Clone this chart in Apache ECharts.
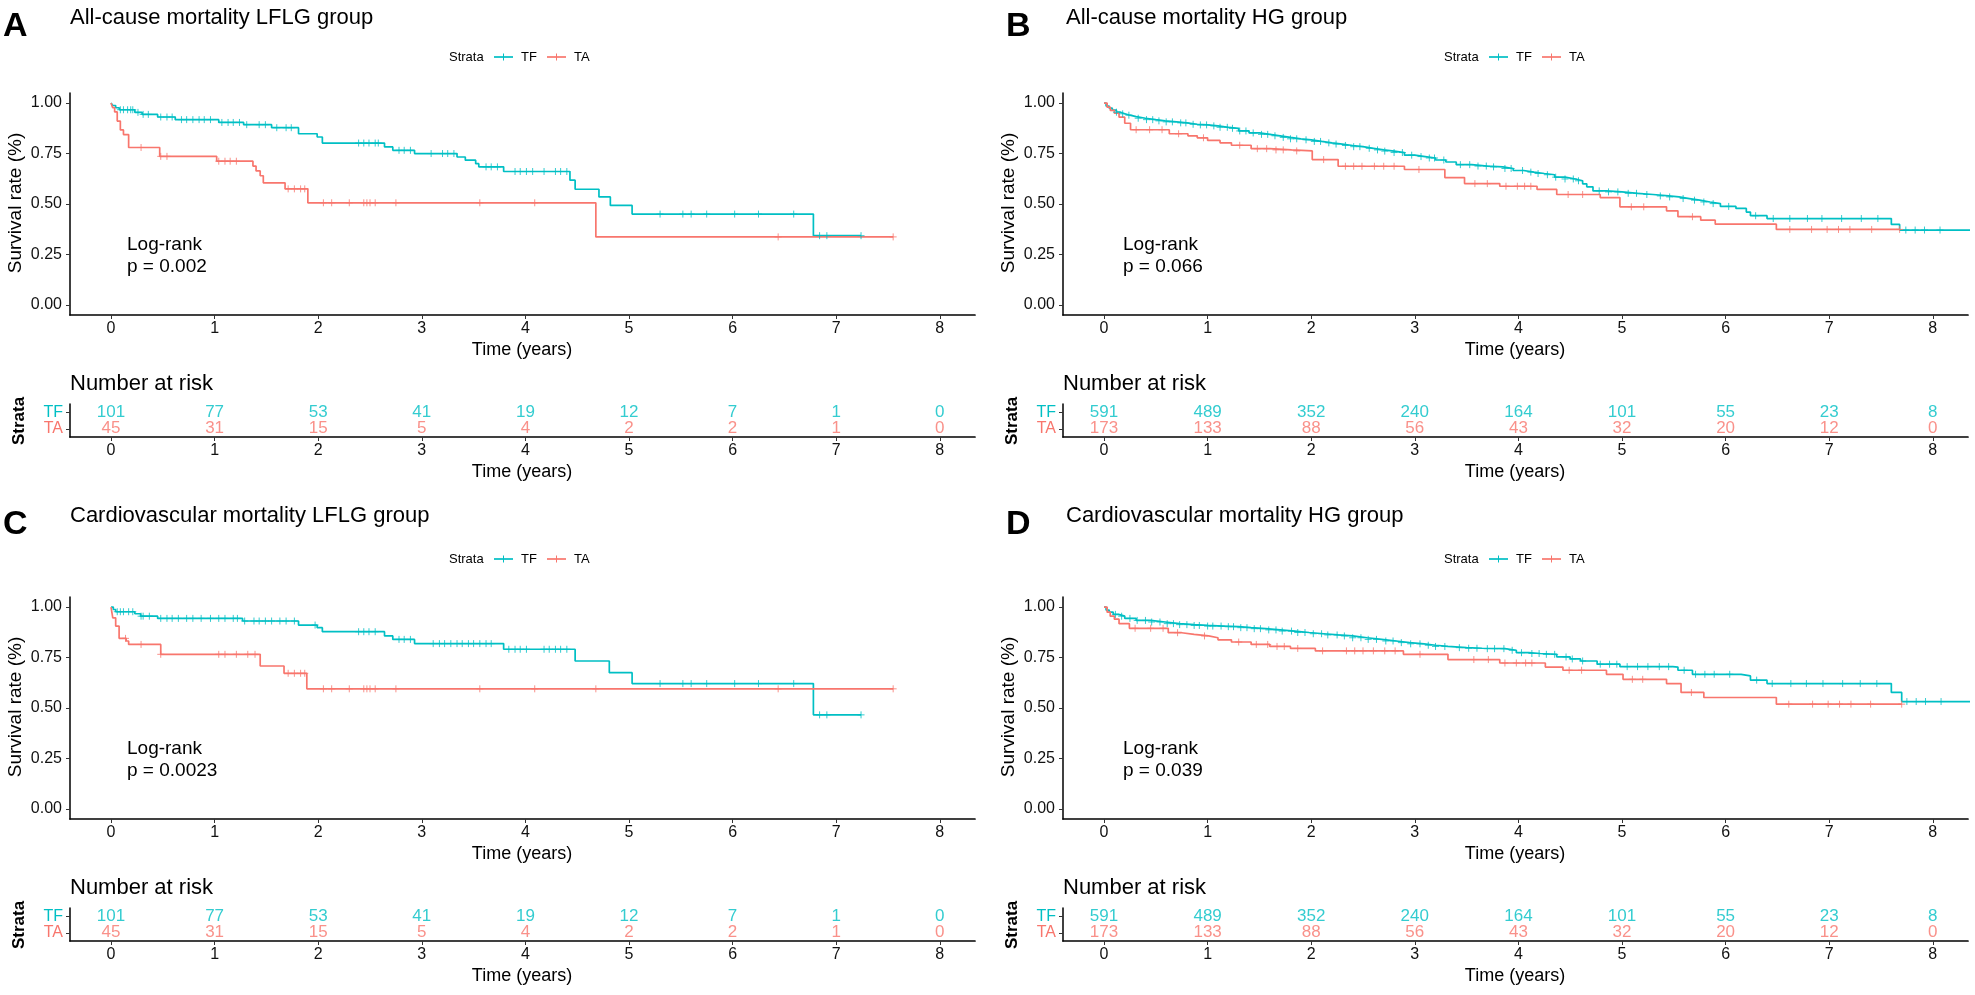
<!DOCTYPE html>
<html><head><meta charset="utf-8">
<script src="https://cdn.jsdelivr.net/npm/echarts@6/dist/echarts.min.js"></script>
<style>html,body{margin:0;padding:0;background:#fff}#c{width:1975px;height:995px}</style>
</head><body><div id="c"></div>
<script>
// ---------------- data ----------------
const years = [0,1,2,3,4,5,6,7,8];
const yTicks = [0,0.25,0.5,0.75,1];
const strata = ['TA','TF'];
const panelLetters = ['A','B','C','D'];
const panelTitles = ['All-cause mortality LFLG group','All-cause mortality HG group','Cardiovascular mortality LFLG group','Cardiovascular mortality HG group'];
const pValues = ['p = 0.002','p = 0.066','p = 0.0023','p = 0.039'];

const riskLFLG_TF = [101,77,53,41,19,12,7,1,0];
const riskLFLG_TA = [45,31,15,5,4,2,2,1,0];
const riskHG_TF = [591,489,352,240,164,101,55,23,8];
const riskHG_TA = [173,133,88,56,43,32,20,12,0];

// Kaplan-Meier step points [time, survival]
const A_TF = [[0,1],[0.017,0.988],[0.045,0.977],[0.08,0.967],[0.23,0.954],[0.30,0.944],[0.45,0.931],[0.62,0.918],[1.04,0.904],[1.28,0.893],[1.55,0.878],[1.81,0.848],[1.99,0.832],[2.04,0.802],[2.64,0.783],[2.72,0.766],[2.93,0.750],[3.34,0.733],[3.42,0.717],[3.52,0.700],[3.55,0.684],[3.79,0.661],[4.43,0.618],[4.48,0.573],[4.71,0.535],[4.82,0.493],[5.03,0.450],[6.78,0.343],[7.24,0.343]];
const A_TA = [[0,1],[0.015,0.978],[0.035,0.956],[0.06,0.911],[0.09,0.867],[0.12,0.844],[0.17,0.78],[0.47,0.736],[1.02,0.712],[1.37,0.688],[1.40,0.664],[1.44,0.64],[1.47,0.605],[1.68,0.575],[1.90,0.506],[4.68,0.337],[7.55,0.337]];
const B_TF = [[0,1],[0.02,0.985],[0.05,0.975],[0.08,0.965],[0.12,0.955],[0.16,0.947],[0.2,0.94],[0.25,0.933],[0.31,0.925],[0.4,0.918],[0.5,0.912],[0.59,0.907],[0.7,0.902],[0.8,0.895],[0.9,0.892],[1.0,0.887],[1.1,0.880],[1.2,0.875],[1.3,0.862],[1.4,0.852],[1.5,0.845],[1.6,0.838],[1.7,0.830],[1.8,0.823],[1.9,0.818],[2.0,0.810],[2.1,0.803],[2.2,0.797],[2.3,0.790],[2.4,0.784],[2.5,0.776],[2.6,0.768],[2.7,0.762],[2.8,0.755],[2.9,0.742],[3.0,0.735],[3.1,0.728],[3.2,0.718],[3.3,0.708],[3.4,0.695],[3.55,0.688],[3.7,0.684],[3.85,0.676],[3.95,0.666],[4.05,0.658],[4.15,0.651],[4.25,0.645],[4.35,0.633],[4.45,0.624],[4.55,0.615],[4.62,0.600],[4.66,0.585],[4.72,0.565],[4.85,0.560],[5.0,0.553],[5.15,0.547],[5.3,0.540],[5.45,0.535],[5.55,0.527],[5.65,0.519],[5.75,0.51],[5.85,0.502],[5.95,0.488],[6.1,0.478],[6.2,0.46],[6.24,0.442],[6.4,0.428],[7.6,0.399],[7.68,0.371],[8.41,0.371]];
const B_TA = [[0,1],[0.03,0.98],[0.06,0.964],[0.10,0.95],[0.145,0.93],[0.2,0.9],[0.256,0.868],[0.63,0.848],[0.81,0.838],[0.9,0.828],[1.0,0.815],[1.12,0.803],[1.23,0.791],[1.42,0.774],[1.6,0.768],[1.81,0.763],[2.01,0.72],[2.26,0.687],[2.90,0.671],[3.29,0.631],[3.48,0.601],[3.82,0.588],[4.18,0.572],[4.37,0.547],[4.79,0.532],[4.98,0.486],[5.43,0.466],[5.54,0.437],[5.76,0.42],[5.90,0.40],[6.49,0.374],[7.68,0.374]];
const C_TF = [[0,1],[0.022,0.988],[0.045,0.977],[0.23,0.967],[0.286,0.955],[0.45,0.944],[1.27,0.931],[1.81,0.911],[1.99,0.898],[2.04,0.878],[2.64,0.857],[2.72,0.840],[2.93,0.819],[3.79,0.791],[4.48,0.733],[4.81,0.675],[5.03,0.621],[6.78,0.466],[7.24,0.466]];
const C_TA = [[0,1],[0.017,0.947],[0.045,0.906],[0.078,0.845],[0.146,0.832],[0.17,0.815],[0.48,0.766],[1.44,0.708],[1.67,0.672],[1.89,0.595],[7.55,0.595]];
const D_TF = [[0,1],[0.02,0.985],[0.05,0.975],[0.089,0.964],[0.14,0.955],[0.2,0.944],[0.31,0.934],[0.45,0.926],[0.59,0.918],[0.73,0.913],[0.87,0.909],[1.0,0.906],[1.15,0.903],[1.3,0.898],[1.42,0.893],[1.56,0.887],[1.70,0.881],[1.84,0.874],[1.98,0.868],[2.12,0.862],[2.26,0.857],[2.4,0.848],[2.54,0.840],[2.68,0.832],[2.82,0.824],[2.95,0.818],[3.09,0.811],[3.2,0.805],[3.32,0.799],[3.5,0.796],[3.65,0.794],[3.87,0.786],[3.98,0.774],[4.1,0.77],[4.21,0.766],[4.37,0.753],[4.5,0.743],[4.60,0.733],[4.76,0.717],[4.98,0.705],[5.49,0.703],[5.54,0.687],[5.68,0.667],[6.15,0.659],[6.24,0.638],[6.40,0.621],[7.60,0.577],[7.70,0.532],[8.41,0.532]];
const D_TA = [[0,1],[0.03,0.975],[0.06,0.955],[0.1,0.94],[0.145,0.918],[0.245,0.895],[0.62,0.873],[0.75,0.865],[0.87,0.857],[1.01,0.848],[1.1,0.838],[1.23,0.827],[1.42,0.815],[1.6,0.805],[1.8,0.795],[2.04,0.783],[2.89,0.766],[3.32,0.74],[3.82,0.723],[4.26,0.703],[4.43,0.687],[4.85,0.667],[5.01,0.642],[5.43,0.621],[5.57,0.577],[5.79,0.552],[6.49,0.519],[7.70,0.519]];

// censoring times
const A_TF_cens = [0.09,0.12,0.16,0.19,0.21,0.26,0.31,0.36,0.48,0.54,0.59,0.68,0.73,0.79,0.85,0.9,0.96,1.07,1.13,1.18,1.24,1.31,1.43,1.49,1.6,1.69,1.74,2.39,2.44,2.49,2.55,2.58,2.78,2.83,2.89,3.09,3.2,3.25,3.31,3.62,3.67,3.73,3.9,3.95,4.01,4.07,4.18,4.29,4.34,4.4,5.3,5.52,5.6,5.75,6.02,6.25,6.59,6.84,6.91,7.24];
const A_TA_cens = [0.29,0.48,0.54,1.04,1.1,1.15,1.21,1.71,1.77,1.83,1.87,2.05,2.13,2.3,2.44,2.47,2.5,2.55,2.75,3.56,4.09,6.44,7.55];
const B_TF_cens = [0.12,0.18,0.24,0.33,0.41,0.47,0.53,0.6,0.66,0.74,0.79,0.86,0.93,0.99,1.06,1.12,1.19,1.24,1.31,1.37,1.44,1.52,1.58,1.65,1.73,1.8,1.86,1.95,2.03,2.09,2.17,2.24,2.33,2.41,2.47,2.56,2.64,2.71,2.8,2.88,2.97,3.06,3.14,3.19,3.28,3.44,3.53,3.61,3.69,3.76,3.87,3.93,4.04,4.12,4.19,4.28,4.36,4.45,4.53,4.58,4.78,4.87,4.96,5.06,5.14,5.24,5.37,5.46,5.59,5.7,5.79,5.88,6.03,6.29,6.46,6.62,6.79,6.93,7.12,7.31,7.47,7.74,7.83,7.92,8.07];
const B_TA_cens = [0.31,0.44,0.56,0.72,0.96,1.31,1.48,1.57,1.66,1.73,1.86,2.12,2.33,2.41,2.49,2.61,2.7,2.8,3.04,3.58,3.7,3.88,3.99,4.06,4.12,4.48,4.62,5.09,5.21,5.68,6.62,6.83,6.98,7.09,7.2,7.41,7.68];
const C_TF_cens = [0.06,0.09,0.12,0.17,0.21,0.29,0.31,0.37,0.48,0.54,0.59,0.65,0.73,0.79,0.87,0.96,1.04,1.1,1.18,1.22,1.29,1.38,1.43,1.49,1.55,1.63,1.69,1.77,1.97,2.39,2.44,2.49,2.55,2.78,2.83,2.89,3.11,3.17,3.22,3.28,3.34,3.39,3.45,3.5,3.56,3.62,3.67,3.84,3.9,3.95,4.01,4.18,4.23,4.29,4.34,4.4,5.3,5.52,5.6,5.75,6.02,6.25,6.59,6.84,6.91,7.24];
const C_TA_cens = [0.14,0.29,0.48,1.04,1.1,1.21,1.32,1.39,1.71,1.77,1.83,1.87,2.05,2.13,2.3,2.44,2.47,2.5,2.55,2.75,3.56,4.09,4.68,6.44,7.55];
const D_TF_cens = [0.11,0.17,0.25,0.32,0.4,0.46,0.54,0.61,0.67,0.73,0.8,0.87,0.92,1.0,1.05,1.13,1.2,1.25,1.32,1.38,1.45,1.51,1.59,1.66,1.72,1.81,1.87,1.94,2.02,2.1,2.16,2.25,2.32,2.4,2.48,2.55,2.63,2.72,2.79,2.87,2.96,3.05,3.13,3.2,3.29,3.43,3.52,3.6,3.7,3.77,3.86,3.94,4.03,4.13,4.2,4.27,4.35,4.46,4.52,4.62,4.79,4.88,4.95,5.05,5.15,5.25,5.36,5.45,5.6,5.71,5.8,5.89,6.04,6.3,6.45,6.63,6.78,6.94,7.13,7.3,7.46,7.75,7.84,7.93,8.08];
const D_TA_cens = [0.3,0.45,0.57,0.71,0.97,1.3,1.47,1.58,1.67,1.74,1.87,2.11,2.34,2.42,2.5,2.6,2.71,2.81,3.05,3.57,3.71,3.87,3.98,4.07,4.13,4.49,4.61,5.1,5.2,5.67,6.61,6.84,6.99,7.1,7.21,7.4,7.7];

// ---------------- chart ----------------
const FONT = "'Liberation Sans', Arial, Helvetica, sans-serif";
const TF_COL = '#00BFC4', TA_COL = '#F8766D';
const XMIN = -0.396, XMAX = 8.34;

const panels = [
  {tf:A_TF, ta:A_TA, ctf:A_TF_cens, cta:A_TA_cens, rtf:riskLFLG_TF, rta:riskLFLG_TA},
  {tf:B_TF, ta:B_TA, ctf:B_TF_cens, cta:B_TA_cens, rtf:riskHG_TF, rta:riskHG_TA},
  {tf:C_TF, ta:C_TA, ctf:C_TF_cens, cta:C_TA_cens, rtf:riskLFLG_TF, rta:riskLFLG_TA},
  {tf:D_TF, ta:D_TA, ctf:D_TF_cens, cta:D_TA_cens, rtf:riskHG_TF, rta:riskHG_TA}
];

function survAt(steps, t) {
  let v = steps[0][1];
  for (const p of steps) { if (p[0] <= t) v = p[1]; else break; }
  return v;
}

const grids = [], xAxes = [], yAxes = [], series = [], graphics = [];
const plusPath = 'path://M5,0L5,10M0,5L10,5';

function xAxisDef(gi) {
  return {
    gridIndex: gi, type: 'value', min: XMIN, max: XMAX, position: 'bottom',
    axisLine: {show: true, onZero: false, lineStyle: {color: '#000', width: 1.7}},
    axisTick: {show: true, customValues: years, length: 4, lineStyle: {color: '#333', width: 1}},
    axisLabel: {customValues: years, margin: 6, fontFamily: FONT, fontSize: 16, color: '#111'},
    splitLine: {show: false}
  };
}

panels.forEach((p, i) => {
  const col = i % 2, row = Math.floor(i / 2);
  const xo = col * 993, yo = row * 504;
  const gk = 2 * i, gr = 2 * i + 1;
  grids.push({left: 70 + xo, top: 93 + yo, width: 905, height: 222, containLabel: false, outerBoundsMode: 'none'});
  grids.push({left: 70 + xo, top: 404 + yo, width: 905, height: 33, containLabel: false, outerBoundsMode: 'none'});
  xAxes.push(xAxisDef(gk));
  xAxes.push(xAxisDef(gr));
  yAxes.push({
    gridIndex: gk, type: 'value', min: -0.05, max: 1.05, position: 'left',
    axisLine: {show: true, onZero: false, lineStyle: {color: '#000', width: 1.5}},
    axisTick: {show: true, customValues: yTicks, length: 4, lineStyle: {color: '#333', width: 1}},
    axisLabel: {customValues: yTicks, margin: 8, fontFamily: FONT, fontSize: 16, color: '#111', formatter: v => v.toFixed(2)},
    splitLine: {show: false}
  });
  yAxes.push({
    gridIndex: gr, type: 'category', data: strata, position: 'left',
    axisLine: {show: true, onZero: false, lineStyle: {color: '#000', width: 1.5}},
    axisTick: {show: true, alignWithLabel: true, interval: 0, length: 4, lineStyle: {color: '#333', width: 1}},
    axisLabel: {interval: 0, hideOverlap: false, margin: 7, fontFamily: FONT, fontSize: 16, color: v => (v === 'TF' ? TF_COL : TA_COL)},
    splitLine: {show: false}
  });

  [[p.tf, TF_COL, 'TF'], [p.ta, TA_COL, 'TA']].forEach(([steps, c, nm]) => {
    series.push({
      type: 'line', name: nm, xAxisIndex: gk, yAxisIndex: gk, data: steps, step: 'end',
      symbol: 'none', lineStyle: {color: c, width: 1.7}, itemStyle: {color: c}, z: 3
    });
  });
  [[p.ctf, p.tf, TF_COL, 'TF'], [p.cta, p.ta, TA_COL, 'TA']].forEach(([cens, steps, c, nm]) => {
    series.push({
      type: 'scatter', name: nm, xAxisIndex: gk, yAxisIndex: gk,
      data: cens.map(t => [t, survAt(steps, t)]),
      symbol: plusPath, symbolSize: 7,
      itemStyle: {color: 'rgba(0,0,0,0)', borderColor: c, borderWidth: 1, opacity: 0.8}, z: 4
    });
  });
  [[p.rtf, 'TF', TF_COL], [p.rta, 'TA', TA_COL]].forEach(([vals, cat, c]) => {
    series.push({
      type: 'scatter', name: cat, xAxisIndex: gr, yAxisIndex: gr,
      data: years.map((y, k) => [y, cat, vals[k]]),
      symbolSize: 1, itemStyle: {color: 'rgba(0,0,0,0)'},
      label: {show: true, position: 'inside', formatter: q => String(q.value[2]), fontFamily: FONT, fontSize: 17, color: c}
    });
  });

  // texts
  const txo = col * 996;
  const tyo = row * 498;
  graphics.push({type: 'text', left: (col ? 1006 : 3), top: 10 + tyo, style: {text: panelLetters[i], fontFamily: FONT, fontWeight: 'bold', fontSize: 34, fill: '#000'}});
  graphics.push({type: 'text', x: 70 + txo, y: 18 + tyo, style: {text: panelTitles[i], fontFamily: FONT, fontSize: 22, fill: '#000', textAlign: 'left', textVerticalAlign: 'middle'}});
  // legend
  const lxo = col * 995, lyo = row * 502, ly = 57 + lyo;
  graphics.push({type: 'text', x: 449 + lxo, y: ly, style: {text: 'Strata', fontFamily: FONT, fontSize: 13, fill: '#000', textAlign: 'left', textVerticalAlign: 'middle'}});
  [[494, TF_COL, 'TF'], [547, TA_COL, 'TA']].forEach(([lx, c, t]) => {
    graphics.push({type: 'line', shape: {x1: lx + lxo, y1: ly, x2: lx + 19 + lxo, y2: ly}, style: {stroke: c, lineWidth: 1.7}});
    graphics.push({type: 'line', shape: {x1: lx + 9.5 + lxo, y1: ly - 3.5, x2: lx + 9.5 + lxo, y2: ly + 3.5}, style: {stroke: c, lineWidth: 1}});
    graphics.push({type: 'text', x: lx + 27 + lxo, y: ly, style: {text: t, fontFamily: FONT, fontSize: 13, fill: '#000', textAlign: 'left', textVerticalAlign: 'middle'}});
  });
  // log-rank
  graphics.push({type: 'text', x: 127 + txo, y: 245 + yo, style: {text: 'Log-rank', fontFamily: FONT, fontSize: 19, fill: '#000', textAlign: 'left', textVerticalAlign: 'middle'}});
  graphics.push({type: 'text', x: 127 + txo, y: 267 + yo, style: {text: pValues[i], fontFamily: FONT, fontSize: 19, fill: '#000', textAlign: 'left', textVerticalAlign: 'middle'}});
  // axis titles
  graphics.push({type: 'text', x: 16 + xo, y: 203 + yo, rotation: Math.PI / 2, style: {text: 'Survival rate (%)', fontFamily: FONT, fontSize: 19, fill: '#000', textAlign: 'center', textVerticalAlign: 'middle'}});
  graphics.push({type: 'text', x: 522 + xo, y: 350 + yo, style: {text: 'Time (years)', fontFamily: FONT, fontSize: 18, fill: '#000', textAlign: 'center', textVerticalAlign: 'middle'}});
  graphics.push({type: 'text', x: 70 + xo, y: 384 + yo, style: {text: 'Number at risk', fontFamily: FONT, fontSize: 22, fill: '#000', textAlign: 'left', textVerticalAlign: 'middle'}});
  graphics.push({type: 'text', x: 19 + xo, y: 421 + yo, rotation: Math.PI / 2, style: {text: 'Strata', fontFamily: FONT, fontWeight: 'bold', fontSize: 17, fill: '#000', textAlign: 'center', textVerticalAlign: 'middle'}});
  graphics.push({type: 'text', x: 522 + xo, y: 472 + yo, style: {text: 'Time (years)', fontFamily: FONT, fontSize: 18, fill: '#000', textAlign: 'center', textVerticalAlign: 'middle'}});
});

const chart = echarts.init(document.getElementById('c'), null, {renderer: 'canvas', width: 1975, height: 995});
chart.setOption({
  animation: false,
  backgroundColor: '#fff',
  grid: grids, xAxis: xAxes, yAxis: yAxes, series: series,
  graphic: {elements: graphics}
});
</script>
</body></html>
